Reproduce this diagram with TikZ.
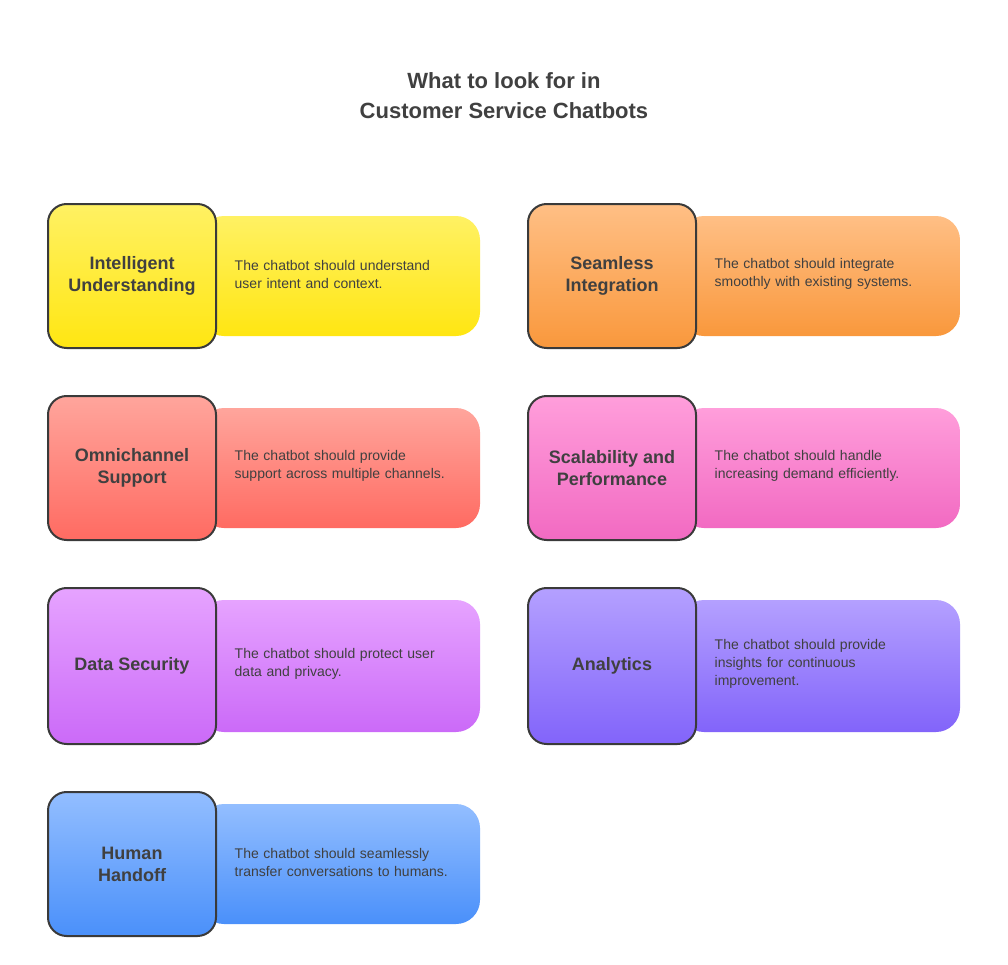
\documentclass[tikz,border=0pt]{standalone}
\usepackage{fontspec}
\setmainfont{Liberation Sans}
\definecolor{txt}{HTML}{404040}
\definecolor{edge}{HTML}{3A3A3A}
\definecolor{aT}{HTML}{FFF163}\definecolor{aB}{HTML}{FFE612}
\definecolor{bT}{HTML}{FFBF85}\definecolor{bB}{HTML}{F9983C}
\definecolor{cT}{HTML}{FFA59C}\definecolor{cB}{HTML}{FF6B62}
\definecolor{dT}{HTML}{FF9EDB}\definecolor{dB}{HTML}{F26AC2}
\definecolor{eT}{HTML}{E6A3FF}\definecolor{eB}{HTML}{CB6AF8}
\definecolor{fT}{HTML}{B4A0FF}\definecolor{fB}{HTML}{8264FA}
\definecolor{gT}{HTML}{93BEFF}\definecolor{gB}{HTML}{4A90FA}
\begin{document}
\begin{tikzpicture}[x=0.75pt,y=-0.75pt,
  bubble/.style={rounded corners=18pt},
  sq/.style={draw=edge,line width=1.5pt,rounded corners=14pt},
  ttl/.style={font=\bfseries\fontsize{13.5}{16.5}\selectfont,text=txt,align=center},
  desc/.style={font=\fontsize{10.5}{13.5}\selectfont,text=txt,align=left,anchor=west,text width=190pt}]
\useasboundingbox[fill=white] (0,0) rectangle (1008,965);
\node[font=\bfseries\fontsize{16.5}{22.5}\selectfont,text=txt,align=center] (title) at (504,96) {What to look for in\\Customer Service Chatbots};
\newcommand{\itemcard}[6]{%
  \shade[bubble,top color=#4T,bottom color=#4B] (#1+152,#2+12) rectangle (#1+432,#2+#3-12);
  \shade[sq,top color=#4T,bottom color=#4B] (#1,#2) rectangle (#1+168,#2+#3);
  \node[ttl] (#4t) at (#1+84,#2+#3/2) {#5};
  \node[desc] (#4d) at (#1+182,#2+#3/2-2) {#6};
}
\itemcard{48}{204}{144}{a}{Intelligent\\Understanding}{The chatbot should understand\\user intent and context.}
\itemcard{528}{204}{144}{b}{Seamless\\Integration}{The chatbot should integrate\\smoothly with existing systems.}
\itemcard{48}{396}{144}{c}{Omnichannel\\Support}{The chatbot should provide\\support across multiple channels.}
\itemcard{528}{396}{144}{d}{Scalability and\\Performance}{The chatbot should handle\\increasing demand efficiently.}
\itemcard{48}{588}{156}{e}{Data Security}{The chatbot should protect user\\data and privacy.}
\itemcard{528}{588}{156}{f}{Analytics}{The chatbot should provide\\insights for continuous\\improvement.}
\itemcard{48}{792}{144}{g}{Human\\Handoff}{The chatbot should seamlessly\\transfer conversations to humans.}
\end{tikzpicture}
\end{document}
